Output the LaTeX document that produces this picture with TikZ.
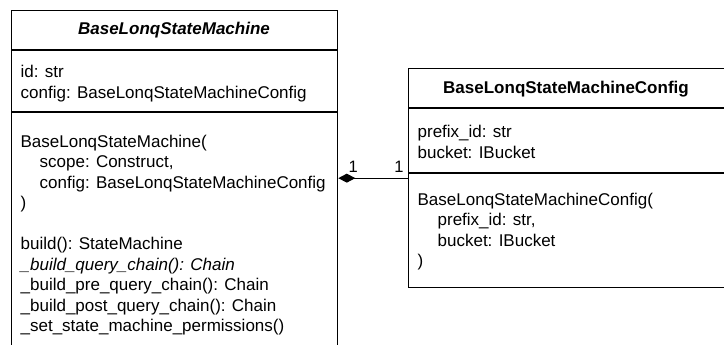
\documentclass[tikz,border=0pt]{standalone}
\usepackage{fontspec}
\setmainfont{Liberation Sans}
\usetikzlibrary{arrows.meta}
\begin{document}
\begin{tikzpicture}[x=1pt,y=-1pt, line width=1.3pt,
  classbox/.style={draw, inner sep=0pt, anchor=north west},
  txt/.style={anchor=base west, inner sep=0pt, font=\fontsize{17}{20.4}\selectfont},
  ttl/.style={anchor=base, inner sep=0pt, font=\fontsize{17}{20.4}\selectfont\bfseries},
  mult/.style={anchor=base, inner sep=0pt, font=\fontsize{16.5}{20}\selectfont},
  sep/.style={line width=1.3pt}]
\useasboundingbox (0,0) rectangle (724,345);
\clip (0,0) rectangle (724,345);
% left class
\node[classbox, minimum width=326pt, minimum height=370pt] (lbox) at (11,10) {};
\draw[sep] (lbox.west |- 0,50) -- (lbox.east |- 0,50);
\draw[sep] (lbox.west |- 0,112) -- (lbox.east |- 0,112);
\node[ttl] (ltitle) at (174,35) {\itshape BaseLonqStateMachine};
\node[txt] (la1) at (20,78) {id: str};
\node[txt] (la2) at (20,98.5) {config: BaseLonqStateMachineConfig};
\node[txt] (lc1) at (20,147) {BaseLonqStateMachine(};
\node[txt] (lc2) at (39,167.5) {scope: Construct,};
\node[txt] (lc3) at (39,188) {config: BaseLonqStateMachineConfig};
\node[txt] (lc4) at (20,208.5) {)};
\node[txt] (lm1) at (20,249.5) {build(): StateMachine};
\node[txt] (lm2) at (20,270) {\itshape \_build\_query\_chain(): Chain};
\node[txt] (lm3) at (20,290.5) {\_build\_pre\_query\_chain(): Chain};
\node[txt] (lm4) at (20,311) {\_build\_post\_query\_chain(): Chain};
\node[txt] (lm5) at (20,331.5) {\_set\_state\_machine\_permissions()};
% right class
\node[classbox, minimum width=318pt, minimum height=219pt] (rbox) at (408,68) {};
\draw[sep] (rbox.west |- 0,108) -- (rbox.east |- 0,108);
\draw[sep] (rbox.west |- 0,173) -- (rbox.east |- 0,173);
\node[ttl] (rtitle) at (566,94) {BaseLonqStateMachineConfig};
\node[txt] (ra1) at (417,137.5) {prefix\_id: str};
\node[txt] (ra2) at (417,158) {bucket: IBucket};
\node[txt] (rc1) at (417,205) {BaseLonqStateMachineConfig(};
\node[txt] (rc2) at (437,225.5) {prefix\_id: str,};
\node[txt] (rc3) at (437,246) {bucket: IBucket};
\node[txt] (rc4) at (417,266.5) {)};
% composition
\coordinate (cl) at (lbox.east |- rbox.west);
\draw[{Diamond[length=17pt,width=9pt]}-] (cl) -- (rbox.west);
\node[mult] (m1) at ([shift={(15,-6)}]cl) {1};
\node[mult] (m2) at ([shift={(-9,-6)}]rbox.west) {1};
\end{tikzpicture}
\end{document}
